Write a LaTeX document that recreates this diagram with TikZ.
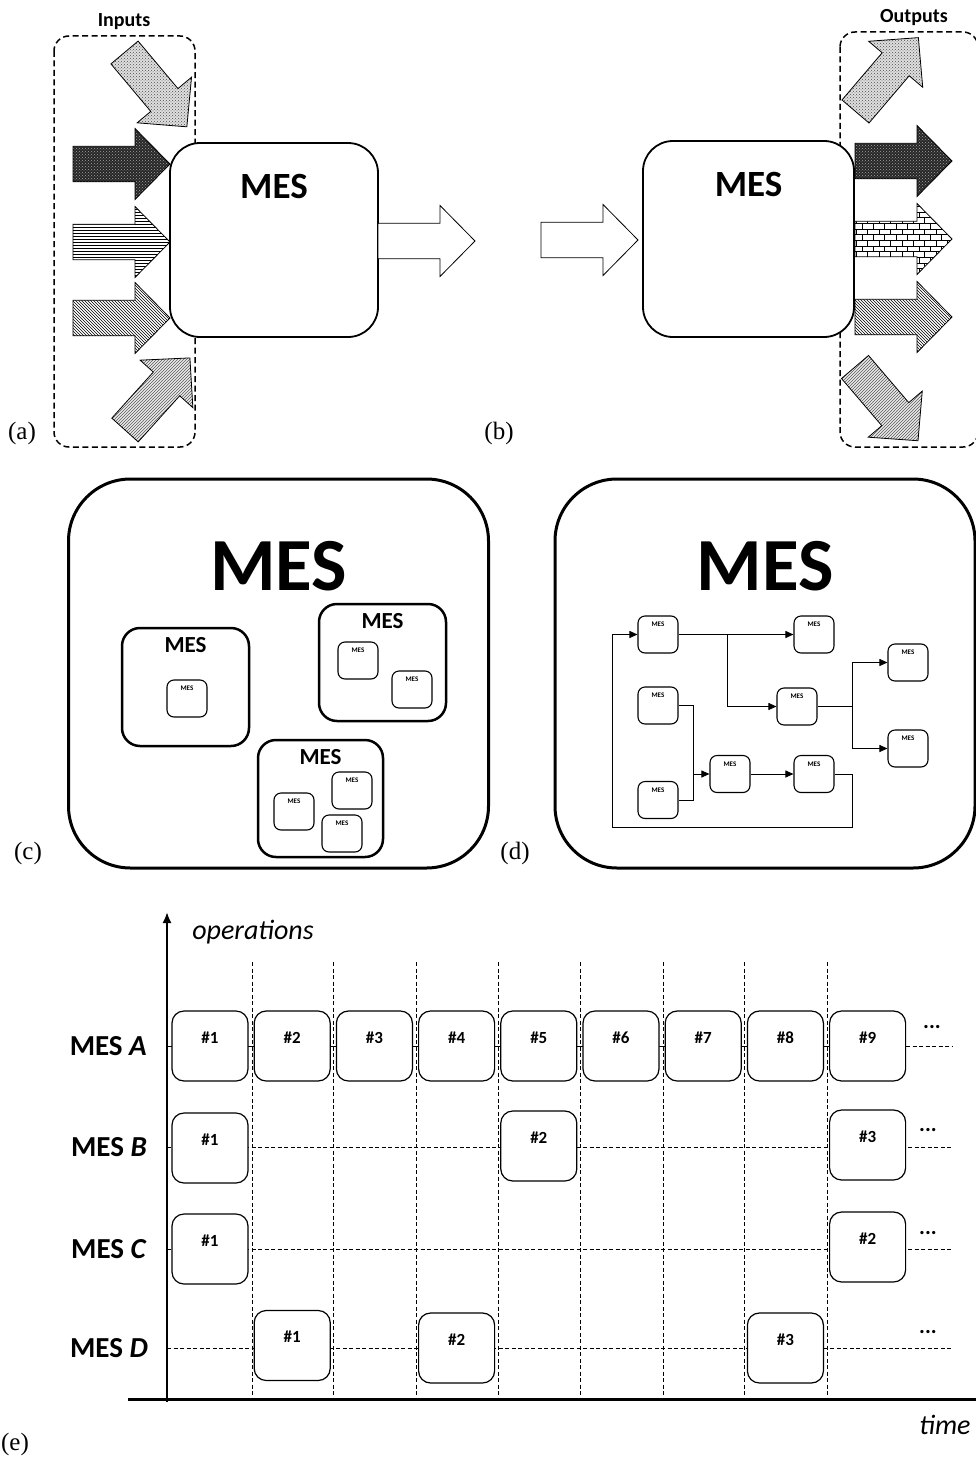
\documentclass[tikz,border=0pt]{standalone}
\usepackage{fontspec}
\setmainfont{Carlito}
\newfontfamily\lblfont{Liberation Serif}
\usetikzlibrary{patterns,arrows.meta,calc}
\begin{document}
\begin{tikzpicture}[x=1pt,y=-1pt,
  fatarrow/.pic={\path[#1] (0,-17.75) -- (62,-17.75) -- (62,-35.5) -- (97,0) -- (62,35.5) -- (62,17.75) -- (0,17.75) -- cycle;},
  darkpat/.style={draw, line width=0.8, preaction={fill=black!85}, pattern=crosshatch dots, pattern color=gray!70},
  wavepat/.style={draw, line width=0.8, preaction={fill=gray!25}, pattern=crosshatch dots, pattern color=gray!60!black},
  hlinepat/.style={draw, line width=0.8, preaction={fill=white}, pattern=horizontal lines},
  nwpat/.style={draw, line width=0.8, preaction={fill=white}, pattern=north west lines},
  lightpat/.style={draw, line width=0.8, preaction={fill=gray!15}, pattern=north east lines, pattern color=gray!70!black},
  brickpat/.style={draw, line width=0.8, preaction={fill=white}, pattern=bricks},
  whitearr/.style={draw, line width=0.8, fill=white},
  groupbox/.style={draw, line width=1.5, dash pattern=on 6pt off 3.5pt, rounded corners=15},
  grouptitle/.style={font=\fontsize{20}{20}\bfseries\selectfont},
  mesbox/.style={draw, line width=1.8, fill=white, rounded corners=30, inner sep=0,
     label={[font=\fontsize{37}{37}\bfseries\selectfont, anchor=north, inner sep=0, yshift=-32]north:MES}},
  bigbox/.style={draw, line width=3, fill=white, rounded corners=62, inner sep=0,
     minimum width=420, minimum height=389,
     label={[font=\fontsize{75}{75}\bfseries\selectfont, anchor=north, inner sep=0, yshift=-64]north:MES}},
  midbox/.style={draw, line width=2.5, fill=white, rounded corners=18, inner sep=0,
     label={[font=\fontsize{23}{23}\bfseries\selectfont, anchor=north, inner sep=0, yshift=-10.5]north:MES}},
  tinybox/.style={draw, line width=1.1, fill=white, rounded corners=7, inner sep=0,
     minimum width=40, minimum height=37,
     label={[font=\fontsize{7}{7}\bfseries\selectfont, anchor=north, inner sep=0, yshift=-6.75]north:MES}},
  conn/.style={line width=0.9, -{Triangle[length=8,width=7]}},
  plain/.style={line width=0.9},
  panel/.style={font=\lblfont\fontsize{25}{25}\selectfont},
  ebox/.style={draw, line width=1.2, fill=white, rounded corners=12, inner sep=0,
     minimum width=76, minimum height=70,
     label={[font=\fontsize{17}{17}\bfseries\selectfont, anchor=north, inner sep=0, yshift=-21]north:#1}},
  gridline/.style={line width=1, dash pattern=on 4pt off 2.5pt},
  rowlbl/.style={font=\fontsize{29}{29}\bfseries\selectfont, anchor=east, inner sep=0},
  more/.style={font=\fontsize{22}{22}\bfseries\selectfont, inner sep=0},
  axislbl/.style={font=\fontsize{28}{28}\itshape\selectfont, inner sep=0}
]
\useasboundingbox (0,0) rectangle (976,1461);

% ---------------- (a) ----------------
\draw[groupbox] (54,36) rectangle (195,447);
\node[grouptitle] (tin) at (124,22) {Inputs};
\node[mesbox, minimum width=208, minimum height=194] (mesa) at (274,240) {};
\pic[rotate=-50] at (124.5,52.5) {fatarrow=wavepat};
\pic at (73,164) {fatarrow=darkpat};
\pic at (73,242) {fatarrow=hlinepat};
\pic at (73,318) {fatarrow=nwpat};
\pic[rotate=48] at (125,430) {fatarrow=lightpat};
\pic at (378,241) {fatarrow=whitearr};
\node[panel] (pa) at (22,433) {(a)};

% ---------------- (b) ----------------
\draw[groupbox] (840,32) rectangle (978,447);
\node[grouptitle] (tout) at (914,18) {Outputs};
\node[mesbox, minimum width=211, minimum height=196] (mesb) at (748.5,239) {};
\pic at (541,240) {fatarrow=whitearr};
\pic[rotate=49.6] at (855.5,111.5) {fatarrow=wavepat};
\pic at (855,161) {fatarrow=darkpat};
\pic at (855,239) {fatarrow=brickpat};
\pic at (855,317) {fatarrow=nwpat};
\pic[rotate=-49.5] at (855,367) {fatarrow=lightpat};
\node[panel] (pb) at (499,433) {(b)};

% ---------------- (c) ----------------
\node[bigbox] (bigc) at (278.5,673.5) {};
\node[midbox, minimum width=127, minimum height=118] (mc1) at (185.5,687) {};
\node[midbox, minimum width=127, minimum height=117] (mc2) at (382.5,662.5) {};
\node[midbox, minimum width=125, minimum height=117] (mc3) at (320.5,798.5) {};
\node[tinybox] (sc1) at (187,698.5) {};
\node[tinybox] (sc2) at (358,660.5) {};
\node[tinybox] (sc3) at (412,689.5) {};
\node[tinybox] (sc4) at (294,811.5) {};
\node[tinybox] (sc5) at (352,790.5) {};
\node[tinybox] (sc6) at (342,833.5) {};
\node[panel] (pc) at (28,853) {(c)};

% ---------------- (d) ----------------
\node[bigbox] (bigd) at (765,673.5) {};
\node[tinybox] (n1) at (658,634.5) {};
\node[tinybox] (n2) at (814,634.5) {};
\node[tinybox] (n3) at (908,662.5) {};
\node[tinybox] (n4) at (797,706.5) {};
\node[tinybox] (n5) at (908,748.5) {};
\node[tinybox] (n6) at (658,705.5) {};
\node[tinybox] (n7) at (658,800) {};
\node[tinybox] (n8) at (730,774) {};
\node[tinybox] (n9) at (814,774) {};
\coordinate (j1) at (727,634.5);
\coordinate (j2) at (852,706.5);
\coordinate (j3) at (693,705.5);
\coordinate (j4) at (852,774);
\coordinate (j5) at (852,827);
\coordinate (j6) at (612,827);
\draw[conn] (n1.east) -- (n2.west);
\draw[conn] (j1) |- (n4.west);
\draw[plain] (n4.east) -- (j2);
\draw[conn] (j2) |- (n3.west);
\draw[conn] (j2) |- (n5.west);
\draw[plain] (n6.east) -- (j3) |- (n7.east);
\draw[conn] (n8.west -| j3) -- (n8.west);
\draw[conn] (n8.east) -- (n9.west);
\draw[conn] (n9.east) -- (j4) -- (j5) -- (j6) |- (n1.west);
\node[panel] (pd) at (515,853) {(d)};

% ---------------- (e) ----------------
\foreach \x in {252,333,416,498,580,663,744,827}
  \draw[gridline] (\x,962) -- (\x,1399);
\foreach \y in {1147,1249,1348}
  \draw[gridline] (167,\y) -- (952,\y);
\draw[line width=1] (167,1046) -- (906,1046);
\draw[gridline] (906,1046) -- (952,1046);
\draw[line width=2, -{Latex[length=11,width=9]}] (167,1402) -- (167,912);
\draw[line width=3] (128,1399) -- (980,1399);
\node[axislbl] (ops) at (253,932) {operations};
\node[axislbl] (time) at (945,1425) {time};

\node[rowlbl] (ra) at (147,1046) {MES \textit{A}};
\node[rowlbl] (rb) at (147,1147) {MES \textit{B}};
\node[rowlbl] (rc) at (147,1249) {MES \textit{C}};
\node[rowlbl] (rd) at (148,1348) {MES \textit{D}};

\foreach \n [count=\i] in {1,...,9}
  \node[ebox={\#\n}] (A\n) at ({210+82.2*(\i-1)},1046) {};
\node[ebox={\#1}] (B1) at (210,1148) {};
\node[ebox={\#2}] (B2) at (538.8,1146) {};
\node[ebox={\#3}] (B3) at (867.6,1145) {};
\node[ebox={\#1}] (C1) at (210,1249) {};
\node[ebox={\#2}] (C2) at (867.6,1247) {};
\node[ebox={\#1}] (D1) at (292.2,1345.5) {};
\node[ebox={\#2}] (D2) at (456.6,1348) {};
\node[ebox={\#3}] (D3) at (785.4,1348) {};

\node[more] (ma) at (932,1027) {...};
\node[more] (mb) at (928,1130) {...};
\node[more] (mc) at (928,1233) {...};
\node[more] (md) at (928,1332) {...};

\node[panel] (pe) at (15,1444) {(e)};
\end{tikzpicture}
\end{document}
